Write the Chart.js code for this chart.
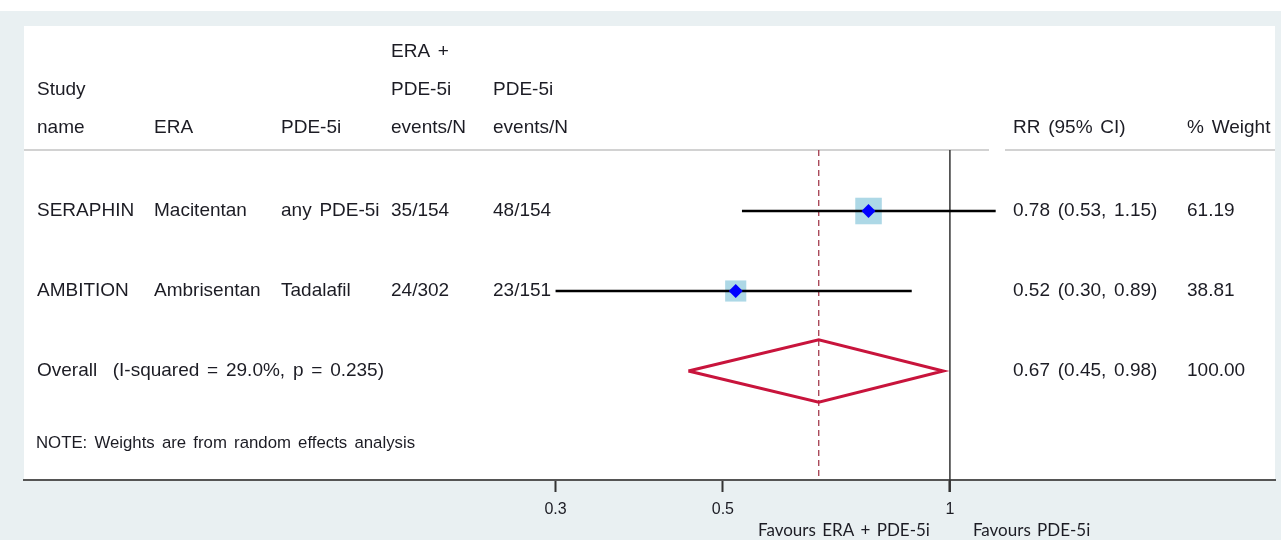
<!DOCTYPE html>
<html>
<head>
<meta charset="utf-8">
<script src="https://cdn.jsdelivr.net/npm/chart.js@4.4.1/dist/chart.umd.min.js"></script>
<style>
  html, body { margin: 0; padding: 0; background: #ffffff; overflow: hidden; }
  canvas { display: block; }
</style>
</head>
<body>
<canvas id="forest" width="1281" height="540"></canvas>
<script>
// ---- Study data ----
const studyNames   = ['SERAPHIN', 'AMBITION'];
const eraDrugs     = ['Macitentan', 'Ambrisentan'];
const pdeDrugs     = ['any PDE-5i', 'Tadalafil'];
const comboEvents  = [35, 24];
const comboTotal   = [154, 302];
const pdeEvents    = [48, 23];
const pdeTotal     = [154, 151];
const rr           = [0.78, 0.52];
const rrLow        = [0.53, 0.30];
const rrHigh       = [1.15, 0.89];
const weights      = [61.19, 38.81];

// ---- Pooled estimate ----
const overallRR    = 0.67;
const overallLow   = 0.45;
const overallHigh  = 0.98;
const overallLabel = 'Overall  (I-squared = 29.0%, p = 0.235)';
const noteText     = 'NOTE: Weights are from random effects analysis';

// ---- Axis ----
const xTickValues  = [0.3, 0.5, 1];
const nullValue    = 1;
const favourLeft   = 'Favours ERA + PDE-5i';
const favourRight  = 'Favours PDE-5i';

// row positions on the vertical scale
const rows = studyNames.map((_, i) => i + 1);
const overallRow = studyNames.length + 1;
const noteRow = overallRow + 0.9;
const diamondHalf = 0.39;

const FONT = '"Liberation Sans", Arial, sans-serif';
const TEXT = '#1c1c24';

const datasets = [
  {
    label: 'estimate',
    type: 'scatter',
    data: rr.map((v, i) => ({ x: v, y: rows[i] })),
    pointStyle: 'rectRot',
    pointRadius: 7,
    pointHoverRadius: 7,
    backgroundColor: '#0000ff',
    borderWidth: 0,
    order: 0
  },
  ...rows.map((r, i) => ({
    label: 'ci-' + studyNames[i],
    type: 'line',
    data: [{ x: rrLow[i], y: r }, { x: rrHigh[i], y: r }],
    borderColor: '#000000',
    borderWidth: 2.5,
    pointRadius: 0,
    order: 1
  })),
  {
    label: 'weight',
    type: 'scatter',
    data: rr.map((v, i) => ({ x: v, y: rows[i] })),
    pointStyle: 'rect',
    pointRadius: ctx => 2.4 * Math.sqrt(weights[ctx.dataIndex]),
    pointHoverRadius: ctx => 2.4 * Math.sqrt(weights[ctx.dataIndex]),
    backgroundColor: '#add8e6',
    borderWidth: 0,
    order: 2
  },
  {
    label: 'overall',
    type: 'line',
    data: [
      { x: overallLow,  y: overallRow },
      { x: overallRR,   y: overallRow - diamondHalf },
      { x: overallHigh, y: overallRow },
      { x: overallRR,   y: overallRow + diamondHalf },
      { x: overallLow,  y: overallRow }
    ],
    borderColor: '#c8143c',
    borderWidth: 3,
    borderJoinStyle: 'miter',
    pointRadius: 0,
    tension: 0,
    fill: false,
    order: 3
  }
];

// panel backgrounds, header rule, reference lines and table text
const panelPlugin = {
  id: 'panel',
  beforeDraw(chart) {
    const { ctx, chartArea } = chart;
    ctx.save();
    ctx.fillStyle = '#e9f0f2';
    ctx.fillRect(0, 0, chart.width, chart.height);
    ctx.fillStyle = '#ffffff';
    ctx.fillRect(0, 0, chart.width, 11);
    ctx.fillRect(chartArea.left, 26, chartArea.right - chartArea.left, chartArea.bottom - 26);
    ctx.strokeStyle = '#d2d2d2';
    ctx.lineWidth = 2;
    ctx.beginPath();
    ctx.moveTo(chartArea.left, chartArea.top);
    ctx.lineTo(989, chartArea.top);
    ctx.moveTo(1005, chartArea.top);
    ctx.lineTo(chartArea.right, chartArea.top);
    ctx.stroke();
    ctx.restore();
  },
  beforeDatasetsDraw(chart) {
    const { ctx, chartArea, scales } = chart;
    const xNull = scales.x.getPixelForValue(nullValue);
    const xOverall = scales.x.getPixelForValue(overallRR);
    ctx.save();
    ctx.strokeStyle = '#333333';
    ctx.lineWidth = 1.5;
    ctx.beginPath();
    ctx.moveTo(xNull, chartArea.top);
    ctx.lineTo(xNull, chartArea.bottom);
    ctx.stroke();
    ctx.strokeStyle = '#a33a4c';
    ctx.lineWidth = 1.3;
    ctx.setLineDash([6, 4]);
    ctx.beginPath();
    ctx.moveTo(xOverall, chartArea.top);
    ctx.lineTo(xOverall, chartArea.bottom);
    ctx.stroke();
    ctx.restore();
  },
  afterDraw(chart) {
    const { ctx, scales } = chart;
    const ys = scales.y;
    const xNull = scales.x.getPixelForValue(nullValue);
    const col = { name: 37, era: 154, pde: 281, combo: 391, pdeN: 493, rr: 1013, w: 1187 };
    ctx.save();
    ctx.fillStyle = TEXT;
    ctx.textBaseline = 'middle';
    ctx.textAlign = 'left';
    ctx.font = '19px ' + FONT;
    ctx.wordSpacing = '2.5px';
    const header = [
      ['ERA +', col.combo, 52],
      ['Study', col.name, 90], ['PDE-5i', col.combo, 90], ['PDE-5i', col.pdeN, 90],
      ['name', col.name, 128], ['ERA', col.era, 128], ['PDE-5i', col.pde, 128],
      ['events/N', col.combo, 128], ['events/N', col.pdeN, 128],
      ['RR (95% CI)', col.rr, 128], ['% Weight', col.w, 128]
    ];
    header.forEach(([t, x, y]) => ctx.fillText(t, x, y));

    rows.forEach((r, i) => {
      const y = ys.getPixelForValue(r);
      ctx.fillText(studyNames[i], col.name, y);
      ctx.fillText(eraDrugs[i], col.era, y);
      ctx.fillText(pdeDrugs[i], col.pde, y);
      ctx.fillText(comboEvents[i] + '/' + comboTotal[i], col.combo, y);
      ctx.fillText(pdeEvents[i] + '/' + pdeTotal[i], col.pdeN, y);
      ctx.fillText(rr[i].toFixed(2) + ' (' + rrLow[i].toFixed(2) + ', ' + rrHigh[i].toFixed(2) + ')', col.rr, y);
      ctx.fillText(weights[i].toFixed(2), col.w, y);
    });

    const yo = ys.getPixelForValue(overallRow);
    ctx.fillText(overallLabel, col.name, yo);
    ctx.fillText(overallRR.toFixed(2) + ' (' + overallLow.toFixed(2) + ', ' + overallHigh.toFixed(2) + ')', col.rr, yo);
    ctx.fillText(weights.reduce((a, b) => a + b, 0).toFixed(2), col.w, yo);

    ctx.font = '16.8px ' + FONT;
    ctx.fillText(noteText, col.name - 1, ys.getPixelForValue(noteRow));

    // direction labels under the axis
    ctx.font = '17px Lato, "Open Sans", sans-serif';
    ctx.wordSpacing = '2px';
    ctx.textAlign = 'right';
    ctx.fillText(favourLeft, xNull - 20, 531);
    ctx.textAlign = 'left';
    ctx.fillText(favourRight, xNull + 23, 531);

    // tick mark at the null line continues below the axis
    ctx.strokeStyle = '#333333';
    ctx.lineWidth = 2;
    ctx.beginPath();
    ctx.moveTo(xNull, chart.chartArea.bottom);
    ctx.lineTo(xNull, chart.chartArea.bottom + 12);
    ctx.stroke();
    ctx.restore();
  }
};

new Chart(document.getElementById('forest'), {
  type: 'scatter',
  data: { datasets },
  options: {
    responsive: false,
    devicePixelRatio: 1,
    animation: false,
    layout: { autoPadding: false, padding: { left: 24, right: 6, top: 150, bottom: 0 } },
    plugins: { legend: { display: false }, tooltip: { enabled: false } },
    events: [],
    scales: {
      x: {
        type: 'logarithmic',
        min: 0.0592,
        max: 2.698,
        bounds: 'data',
        afterBuildTicks: s => { s.ticks = xTickValues.map(v => ({ value: v })); },
        afterFit: s => { s.height = 60; },
        ticks: {
          autoSkip: false,
          maxRotation: 0,
          padding: 8,
          color: TEXT,
          font: { family: FONT, size: 16 },
          callback: v => String(v)
        },
        grid: { drawOnChartArea: false, drawTicks: true, tickLength: 12, tickColor: '#333333', tickWidth: 2 },
        border: { display: true, color: '#555555', width: 2 }
      },
      y: {
        type: 'linear',
        display: false,
        reverse: true,
        min: 0.2375,
        max: 4.3625
      }
    }
  },
  plugins: [panelPlugin]
});
</script>
</body>
</html>
